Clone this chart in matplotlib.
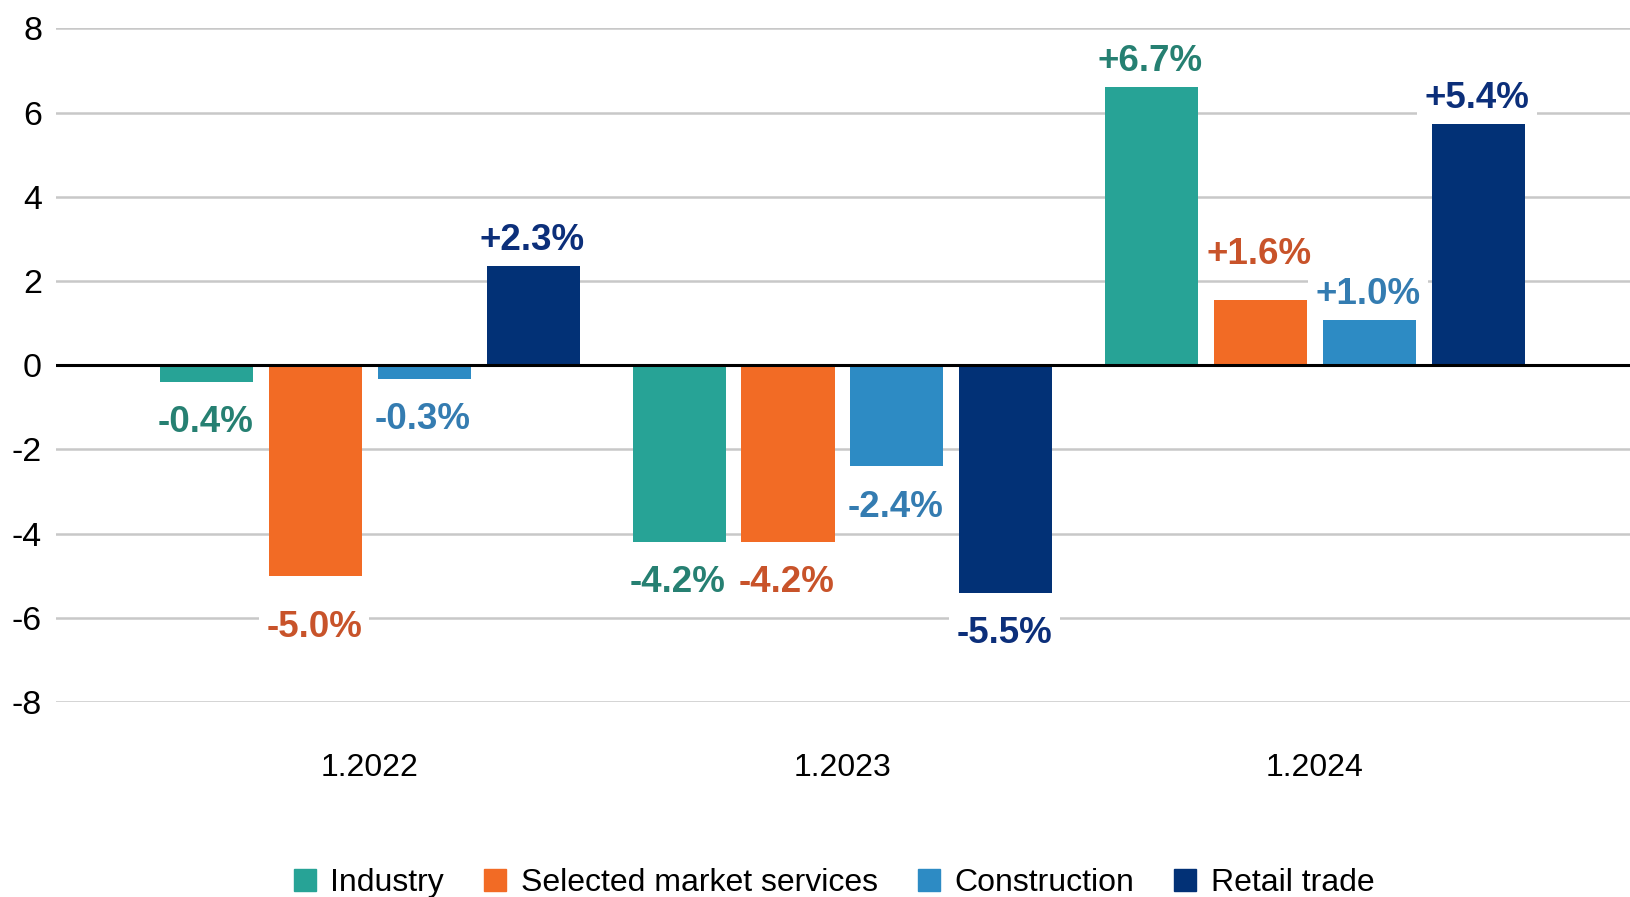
import numpy as np
import matplotlib
matplotlib.use("Agg")
import matplotlib.pyplot as plt
from matplotlib.patches import Patch

plt.rcParams['font.family'] = ['Liberation Sans', 'DejaVu Sans']

# data
periods = ["1.2022", "1.2023", "1.2024"]
series = ["Industry", "Selected market services", "Construction", "Retail trade"]
industry = [-0.4, -4.2, 6.6]
services = [-5.0, -4.2, 1.55]
construction = [-0.32, -2.4, 1.07]
retail = [2.35, -5.41, 5.72]
industry_lbl = ["-0.4%", "-4.2%", "+6.7%"]
services_lbl = ["-5.0%", "-4.2%", "+1.6%"]
construction_lbl = ["-0.3%", "-2.4%", "+1.0%"]
retail_lbl = ["+2.3%", "-5.5%", "+5.4%"]
yticks = [-8, -6, -4, -2, 0, 2, 4, 6, 8]

bar_colors = ["#27a396", "#f26b25", "#2d8bc4", "#023176"]
text_colors = ["#268072", "#c8532a", "#347cb1", "#0c2f7a"]

values = [industry, services, construction, retail]
labels = [industry_lbl, services_lbl, construction_lbl, retail_lbl]

fig = plt.figure(figsize=(16.31, 8.97), dpi=100)
ax = fig.add_axes([56 / 1631, 1 - 702 / 897, 1 - 56 / 1631, (702 - 28.3) / 897])

x = np.arange(len(periods))
step = 0.2305
width = 0.197

# small manual nudges (points) for labels that were moved in the original
nudge = {(1, 2): 14, (1, 0): -8}

for i, (vals, lbls) in enumerate(zip(values, labels)):
    xs = x + (i - 1.5) * step
    ax.bar(xs, vals, width, color=bar_colors[i], zorder=2)
    for j, (xx, v, t) in enumerate(zip(xs, vals, lbls)):
        off = 18.5 if v > 0 else -29.5
        off += nudge.get((i, j), 0)
        # white box hides gridlines but sits under the bars
        ax.annotate(t, (xx, v), xytext=(-1, off), textcoords="offset points",
                    ha="center", va="center", fontsize=26.5, fontweight="bold",
                    color=text_colors[i], zorder=1.5,
                    bbox=dict(boxstyle="square,pad=0.2", fc="white", ec="none"))

ax.axhline(0, color="black", lw=2.2, zorder=3)
ax.set_ylim(-8, 8)
ax.set_xlim(-0.6646, 2.669)
ax.set_yticks(yticks)
ax.set_yticklabels([str(t) for t in yticks])
ax.set_xticks(x)
ax.set_xticklabels(periods)
ax.grid(axis="y", color="#c8c8c8", lw=1.8, zorder=0)
ax.set_axisbelow(True)
for s in ax.spines.values():
    s.set_visible(False)
ax.tick_params(axis="y", length=0, pad=10, labelsize=24.5)
ax.tick_params(axis="x", length=0, pad=37, labelsize=23)

handles = [Patch(color=c, label=s) for c, s in zip(bar_colors, series)]
fig.legend(handles=handles, loc="center", bbox_to_anchor=(834 / 1631, 1 - 883 / 897),
           ncol=4, frameon=False, fontsize=23, handlelength=0.7, handleheight=0.7,
           handletextpad=0.45, columnspacing=1.25)

fig.savefig("out.png", dpi=100)
